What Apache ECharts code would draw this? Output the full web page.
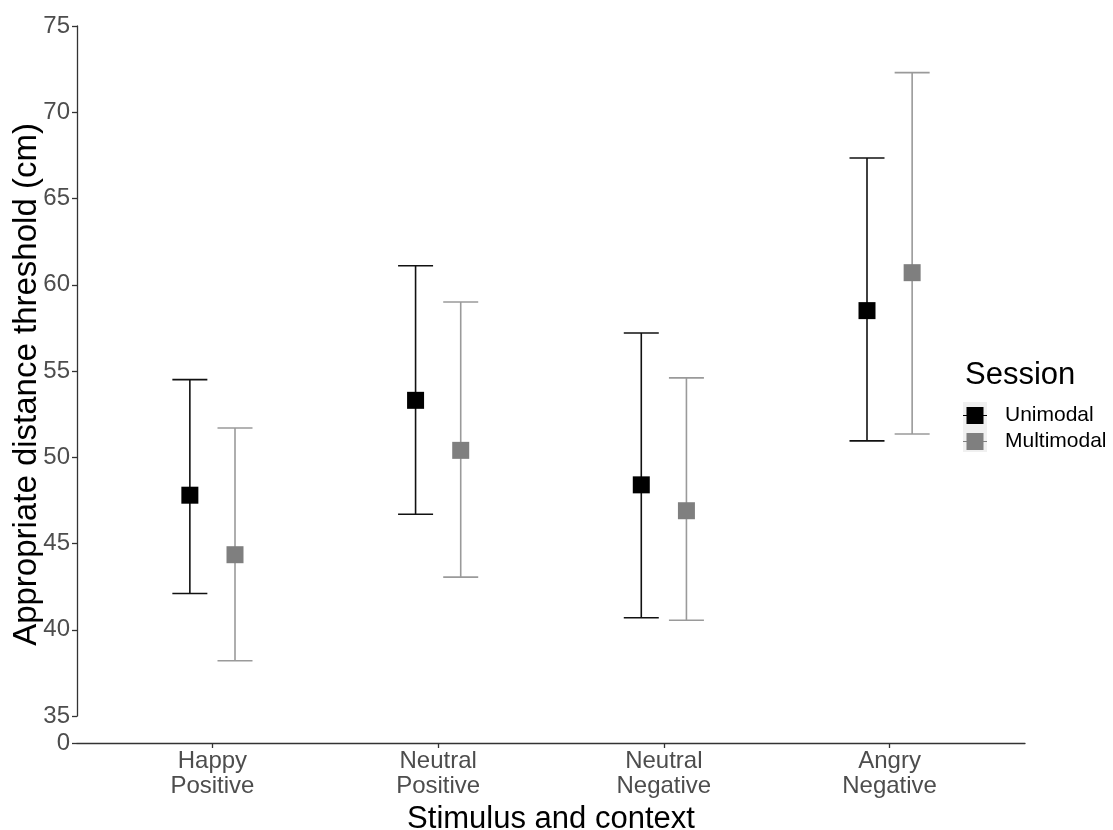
<!DOCTYPE html>
<html>
<head>
<meta charset="utf-8">
<script src="https://cdn.jsdelivr.net/npm/echarts@6/dist/echarts.min.js"></script>
<style>html,body{margin:0;padding:0;background:#fff}#c{width:1113px;height:830px}</style>
</head>
<body>
<div id="c"></div>
<script>
// ---- data ----
const categories = ['Happy\nPositive', 'Neutral\nPositive', 'Neutral\nNegative', 'Angry\nNegative'];
const sessions = ['Unimodal', 'Multimodal'];
const unimodalMean = [47.8, 53.3, 48.4, 58.5];
const unimodalLow  = [42.1, 46.7, 40.7, 50.95];
const unimodalHigh = [54.5, 61.1, 57.2, 67.35];
const multimodalMean = [44.35, 50.4, 46.9, 60.7];
const multimodalLow  = [38.2, 43.05, 40.55, 51.35];
const multimodalHigh = [51.7, 59.0, 54.6, 72.3];
const yTicks = [35, 40, 45, 50, 55, 60, 65, 70, 75];
const yBreakLabel = '0';

// ---- layout ----
const W = 1113, H = 830;
const gLeft = 77, gRight = 88, gTop = 26;
const gBottomMain = 87;   // x axis at y=743
const gBottomY = 114;     // y axis line ends at y=716 (35)
const hMain = H - gTop - gBottomMain;
const hY = H - gTop - gBottomY;
const yMax = 75, yMinAxis = 35;
const breakMin = yMax - (yMax - yMinAxis) * hMain / hY;
const dodge = 0.1;
const font = 'Liberation Sans, Arial, sans-serif';

function buildErr(mean, low, high, off) {
  return mean.map((m, i) => [i + 1 + off, low[i], high[i]]);
}
function buildPts(mean, off) {
  return mean.map((m, i) => [i + 1 + off, m]);
}
function errSeries(name, data, color) {
  return {
    type: 'custom', name: name + ' err', xAxisIndex: 0, yAxisIndex: 0,
    silent: true, z: 2,
    renderItem: function (params, api) {
      const x = api.value(0);
      const lo = api.coord([x, api.value(1)]);
      const hi = api.coord([x, api.value(2)]);
      const hw = 17.5;
      const st = { stroke: color, lineWidth: 1.6, fill: null };
      return { type: 'group', children: [
        { type: 'line', shape: { x1: lo[0], y1: lo[1], x2: hi[0], y2: hi[1] }, style: st },
        { type: 'line', shape: { x1: lo[0] - hw, y1: lo[1], x2: lo[0] + hw, y2: lo[1] }, style: st },
        { type: 'line', shape: { x1: hi[0] - hw, y1: hi[1], x2: hi[0] + hw, y2: hi[1] }, style: st }
      ]};
    },
    data: data
  };
}
const keyIcon = 'path://M0,8 L3.5,8 L3.5,0 L20.5,0 L20.5,8 L24,8 L24,9 L20.5,9 L20.5,17 L3.5,17 L3.5,9 L0,9 Z';

const chart = echarts.init(document.getElementById('c'), null, { renderer: 'canvas' });
chart.setOption({
  backgroundColor: '#fff',
  animation: false,
  textStyle: { fontFamily: font },
  title: {
    text: 'Session', left: 965, top: 360, padding: 0,
    textStyle: { fontFamily: font, fontSize: 31, fontWeight: 'normal', color: '#000' }
  },
  legend: {
    data: sessions, orient: 'vertical', left: 963, top: 405, padding: 0,
    itemWidth: 24, itemHeight: 17, itemGap: 5, icon: keyIcon,
    textStyle: { fontFamily: font, fontSize: 21, color: '#000', padding: [0, 0, 0, 13] }
  },
  graphic: [{
    type: 'rect', left: 963, top: 402, z: -1, silent: true,
    shape: { width: 24, height: 50 }, style: { fill: '#f0f0f0' }
  }],
  grid: [
    { left: gLeft, right: gRight, top: gTop, bottom: gBottomMain, outerBoundsMode: 'none', containLabel: false },
    { left: gLeft, right: gRight, top: gTop, bottom: gBottomY, outerBoundsMode: 'none', containLabel: false }
  ],
  xAxis: [
    {
      type: 'value', gridIndex: 0, min: 0.4, max: 4.6,
      name: 'Stimulus and context', nameLocation: 'middle', nameGap: 55,
      nameTextStyle: { fontFamily: font, fontSize: 31, color: '#000' },
      axisLine: { show: true, lineStyle: { color: '#333', width: 1.3 } },
      axisTick: { show: true, length: 5, customValues: [1, 2, 3, 4], lineStyle: { color: '#333', width: 1.3 } },
      axisLabel: {
        customValues: [1, 2, 3, 4], margin: 6,
        formatter: v => categories[Math.round(v) - 1] || '',
        fontFamily: font, fontSize: 24, lineHeight: 25, color: '#4d4d4d'
      },
      splitLine: { show: false }
    },
    { type: 'value', gridIndex: 1, min: 0.4, max: 4.6, show: false }
  ],
  yAxis: [
    {
      type: 'value', gridIndex: 0, min: breakMin, max: yMax,
      name: 'Appropriate distance threshold (cm)', nameLocation: 'middle', nameGap: 34,
      nameTextStyle: { fontFamily: font, fontSize: 33, color: '#000' },
      axisLine: { show: false },
      axisTick: { show: true, length: 5, customValues: [breakMin], lineStyle: { color: '#333', width: 1.3 } },
      axisLabel: {
        customValues: [breakMin], margin: 7, formatter: () => yBreakLabel,
        fontFamily: font, fontSize: 24, color: '#4d4d4d'
      },
      splitLine: { show: false }
    },
    {
      type: 'value', gridIndex: 1, min: yMinAxis, max: yMax,
      axisLine: { show: true, lineStyle: { color: '#333', width: 1.3 } },
      axisTick: { show: true, length: 5, customValues: yTicks, lineStyle: { color: '#333', width: 1.3 } },
      axisLabel: {
        customValues: yTicks, margin: 7,
        fontFamily: font, fontSize: 24, color: '#4d4d4d'
      },
      splitLine: { show: false }
    }
  ],
  series: [
    errSeries('Unimodal', buildErr(unimodalMean, unimodalLow, unimodalHigh, -dodge), '#111'),
    errSeries('Multimodal', buildErr(multimodalMean, multimodalLow, multimodalHigh, dodge), '#9a9a9a'),
    {
      type: 'scatter', name: 'Unimodal', xAxisIndex: 0, yAxisIndex: 0, z: 3,
      symbol: 'rect', symbolSize: 17, itemStyle: { color: '#000', opacity: 1 },
      data: buildPts(unimodalMean, -dodge)
    },
    {
      type: 'scatter', name: 'Multimodal', xAxisIndex: 0, yAxisIndex: 0, z: 3,
      symbol: 'rect', symbolSize: 17, itemStyle: { color: '#7f7f7f', opacity: 1 },
      data: buildPts(multimodalMean, dodge)
    }
  ]
});
</script>
</body>
</html>
